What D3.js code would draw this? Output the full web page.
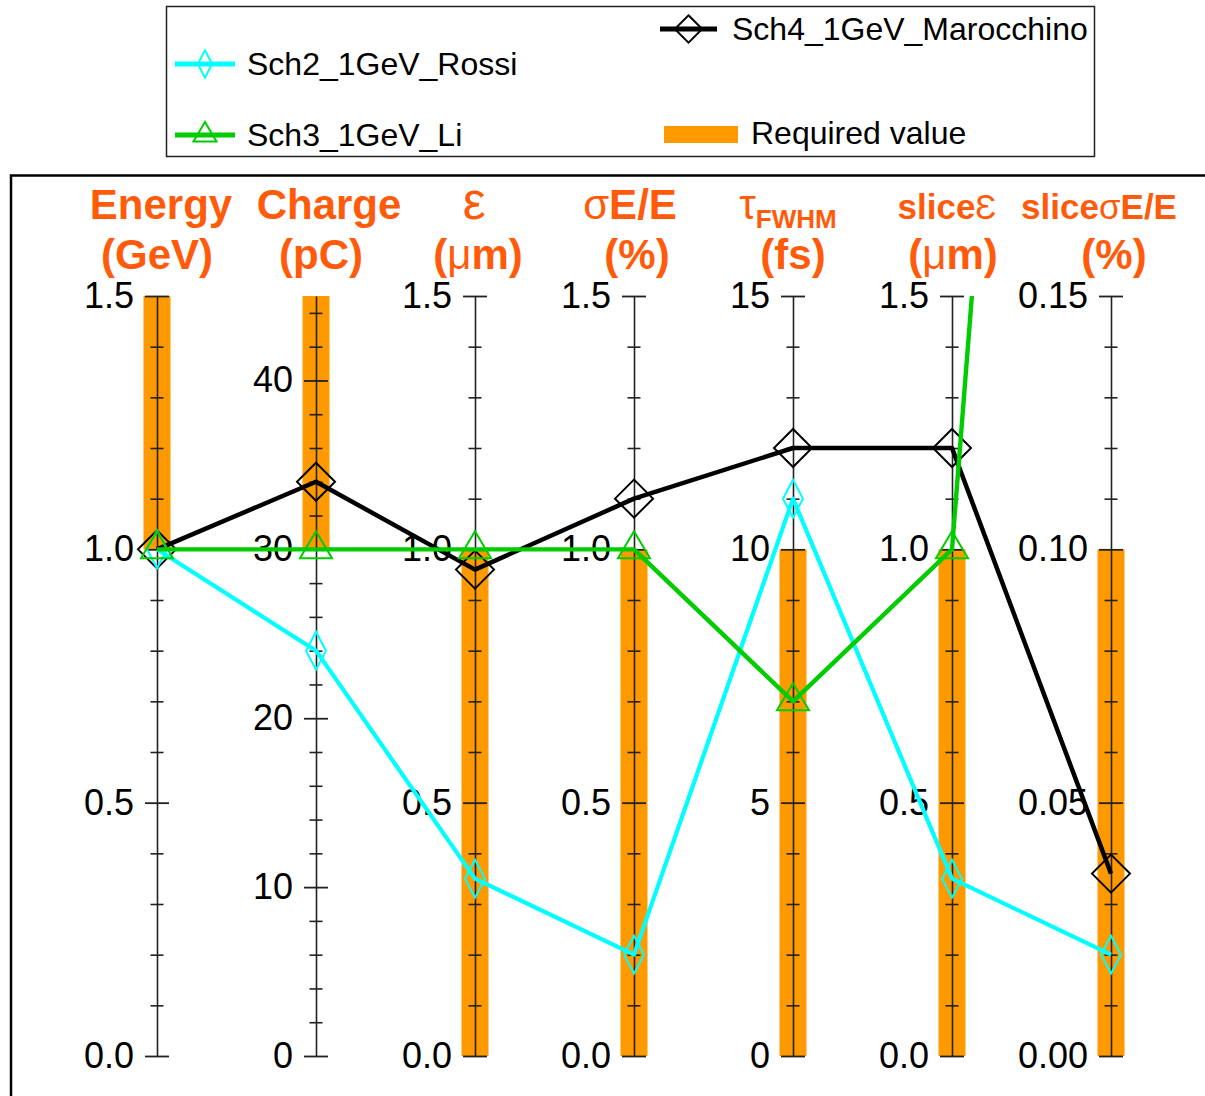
<!DOCTYPE html>
<html>
<head>
<meta charset="utf-8">
<script src="https://cdn.jsdelivr.net/npm/d3@7"></script>
<style>
  body { margin: 0; background: #fff; }
  svg { display: block; }
</style>
</head>
<body>
<svg id="chart" width="1205" height="1096"></svg>
<script>
// Parallel-coordinate comparison of 1 GeV working points against required values.

// ---- data ----
const headerTop  = ["Energy", "Charge", "ε", "σE/E", "τ_FWHM", "sliceƐ", "sliceσE/E"];
const headerUnit = ["(GeV)", "(pC)", "(μm)", "(%)", "(fs)", "(μm)", "(%)"];
const axisMax    = [1.5, 45, 1.5, 1.5, 15, 1.5, 0.15];
const majorTicks = [
  [0, 0.5, 1.0, 1.5],
  [0, 10, 20, 30, 40],
  [0, 0.5, 1.0, 1.5],
  [0, 0.5, 1.0, 1.5],
  [0, 5, 10, 15],
  [0, 0.5, 1.0, 1.5],
  [0, 0.05, 0.10, 0.15]
];
const tickLabels = [
  ["0.0", "0.5", "1.0", "1.5"],
  ["0", "10", "20", "30", "40"],
  ["0.0", "0.5", "1.0", "1.5"],
  ["0.0", "0.5", "1.0", "1.5"],
  ["0", "5", "10", "15"],
  ["0.0", "0.5", "1.0", "1.5"],
  ["0.00", "0.05", "0.10", "0.15"]
];
const minorStep  = [0.1, 2, 0.1, 0.1, 1, 0.1, 0.01];

const seriesNames = ["Sch2_1GeV_Rossi", "Sch3_1GeV_Li", "Sch4_1GeV_Marocchino"];
const rossi       = [1.0, 24, 0.35, 0.20, 11, 0.35, 0.020];
const li          = [1.0, 30, 1.00, 1.00, 7, 1.00, 0.50];
const marocchino  = [1.0, 34, 0.96, 1.10, 12, 1.20, 0.036];

const requiredName = "Required value";
const requiredLow  = [1.0, 30, 0, 0, 0, 0, 0];
const requiredHigh = [1.5, 45, 1.0, 1.0, 10, 1.0, 0.10];

// ---- layout ----
const W = 1205, H = 1096;
const yTop = 296, yBottom = 1056;
const FONT = "Arial, 'Liberation Sans', Helvetica, sans-serif";
const ORANGE = "#FF9900", HEAD = "#FF5B0A";
const CYAN = "#00FFFF", GREEN = "#00CC00", BLACK = "#000000";
// header typography: font size per column and small horizontal nudges
const headerSize  = [42, 42, 42, 42, 42, 35, 35];
const headerNudge = [4, 13, -1, -4, -5, -5, -12];
const unitNudge   = [0, 5, 3, 3, 0, 1, 3];

const svg = d3.select("#chart");
const dims = d3.range(headerTop.length);

const x = d3.scalePoint().domain(dims).range([157, 1111]);
const yScales = dims.map(i => d3.scaleLinear().domain([0, axisMax[i]]).range([yBottom, yTop]));

// plot frame
svg.append("path")
  .attr("d", `M11,${H} V175.5 H${W}`)
  .attr("fill", "none").attr("stroke", "#000").attr("stroke-width", 2.5);

// required-value bands
svg.append("g").selectAll("rect")
  .data(dims).join("rect")
  .attr("x", i => x(i) - 13.5)
  .attr("width", 27)
  .attr("y", i => yScales[i](requiredHigh[i]))
  .attr("height", i => yScales[i](requiredLow[i]) - yScales[i](requiredHigh[i]))
  .attr("fill", ORANGE);

// axes
dims.forEach(i => {
  const y = yScales[i];
  const g = svg.append("g").attr("transform", `translate(${x(i)},0)`);
  const majors = majorTicks[i];
  const n = Math.floor(axisMax[i] / minorStep[i] + 1e-6);
  const minors = d3.range(0, n + 1).map(k => k * minorStep[i])
    .filter(v => !majors.some(m => Math.abs(m - v) < minorStep[i] * 1e-3));

  const minorAxis = d3.axisLeft(y).tickValues(minors).tickFormat("").tickSize(6.5).tickSizeOuter(0);
  const gm = g.append("g").call(minorAxis);
  gm.select(".domain").remove();
  gm.selectAll(".tick line").attr("x1", -6.5).attr("x2", 6.5)
    .attr("stroke", "#222").attr("stroke-width", 1.6);

  const majorAxis = d3.axisLeft(y).tickValues(majors)
    .tickFormat((d, k) => tickLabels[i][k])
    .tickSize(12).tickPadding(11).tickSizeOuter(0);
  const gM = g.append("g").call(majorAxis);
  gM.select(".domain").attr("stroke", "#222").attr("stroke-width", 1.6);
  gM.selectAll(".tick line").attr("x1", -12).attr("x2", 12)
    .attr("stroke", "#222").attr("stroke-width", 1.8);
  gM.selectAll(".tick text")
    .attr("font-family", FONT).attr("font-size", 36).attr("fill", "#000");
});

// headers
const greek = /[εσμτƐ]/;
function drawHeader(str, cx, baseline, size) {
  const t = svg.append("text")
    .attr("x", cx).attr("y", baseline)
    .attr("text-anchor", "middle")
    .attr("font-family", FONT).attr("font-weight", "bold")
    .attr("font-size", size).attr("fill", HEAD);
  let sub = false, shifted = false;
  for (const ch of str) {
    if (ch === "_") { sub = true; continue; }
    const s = t.append("tspan").text(ch);
    if (sub) {
      s.attr("font-size", size * 0.62);
      if (!shifted) { s.attr("dy", 9); shifted = true; }
    } else if (greek.test(ch)) {
      s.attr("font-weight", "normal").attr("font-size", str.length === 1 ? size * 1.24 : size);
    }
  }
}
dims.forEach(i => {
  drawHeader(headerTop[i], x(i) + headerNudge[i], 219, headerSize[i]);
  drawHeader(headerUnit[i], x(i) + unitNudge[i], 269, 42);
});

// series
svg.append("clipPath").attr("id", "plot-clip")
  .append("rect").attr("x", 0).attr("y", yTop).attr("width", W).attr("height", H - yTop);

const series = [
  { name: seriesNames[2], values: marocchino, color: BLACK, width: 4.5, marker: "bigDiamond" },
  { name: seriesNames[0], values: rossi,      color: CYAN,  width: 4.2, marker: "thinDiamond" },
  { name: seriesNames[1], values: li,         color: GREEN, width: 4.4, marker: "triangle" }
];

function markerPath(type, cx, cy, scale = 1) {
  if (type === "bigDiamond") {
    const a = 19 * scale, b = 19 * scale;
    return `M${cx},${cy - b} L${cx + a},${cy} L${cx},${cy + b} L${cx - a},${cy} Z`;
  }
  if (type === "thinDiamond") {
    const a = 10 * scale, b = 19 * scale;
    return `M${cx},${cy - b} L${cx + a},${cy} L${cx},${cy + b} L${cx - a},${cy} Z`;
  }
  const a = 16 * scale;
  return `M${cx},${cy - 18 * scale} L${cx + a},${cy + 9 * scale} L${cx - a},${cy + 9 * scale} Z`;
}

const plot = svg.append("g").attr("clip-path", "url(#plot-clip)");
const line = d3.line().x(d => x(d.i)).y(d => yScales[d.i](d.v));
series.forEach(s => {
  const pts = s.values.map((v, i) => ({ i, v }));
  plot.append("path").datum(pts)
    .attr("d", line)
    .attr("fill", "none").attr("stroke", s.color)
    .attr("stroke-width", s.width).attr("stroke-linejoin", "round");
  plot.append("g").selectAll("path").data(pts).join("path")
    .attr("d", d => markerPath(s.marker, x(d.i), yScales[d.i](d.v)))
    .attr("fill", "none").attr("stroke", s.color).attr("stroke-width", 2);
});

// legend
const lg = svg.append("g");
lg.append("rect").attr("x", 166.5).attr("y", 6.5).attr("width", 928).attr("height", 150)
  .attr("fill", "#fff").attr("stroke", "#222").attr("stroke-width", 1.5);

const legendItems = [
  { s: series[0], x1: 660, x2: 717, y: 29, tx: 732 },
  { s: series[1], x1: 175, x2: 235, y: 64, tx: 247 },
  { s: series[2], x1: 175, x2: 235, y: 135, tx: 247 }
];
legendItems.forEach(it => {
  lg.append("line").attr("x1", it.x1).attr("x2", it.x2).attr("y1", it.y).attr("y2", it.y)
    .attr("stroke", it.s.color).attr("stroke-width", 5);
  lg.append("path").attr("d", markerPath(it.s.marker, (it.x1 + it.x2) / 2, it.y, 0.72))
    .attr("fill", "none").attr("stroke", it.s.color).attr("stroke-width", 2);
  lg.append("text").attr("x", it.tx).attr("y", it.y + 11)
    .attr("font-family", FONT).attr("font-size", 32).attr("fill", "#000")
    .text(it.s.name);
});
lg.append("rect").attr("x", 664).attr("y", 126).attr("width", 74).attr("height", 17).attr("fill", ORANGE);
lg.append("text").attr("x", 751).attr("y", 144)
  .attr("font-family", FONT).attr("font-size", 32).attr("fill", "#000")
  .text(requiredName);
</script>
</body>
</html>
